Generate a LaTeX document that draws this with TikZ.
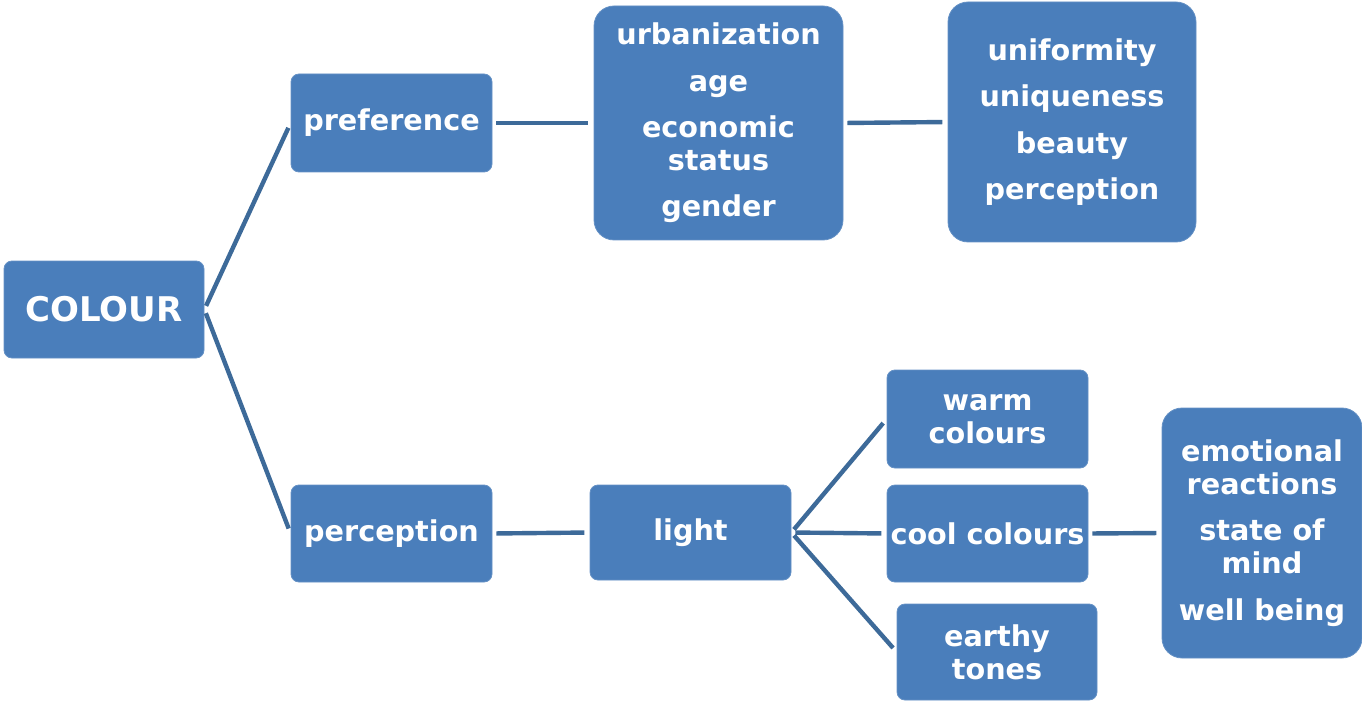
\documentclass[tikz,border=0pt]{standalone}
\usepackage{fontspec}
\setmainfont{DejaVu Sans}
\definecolor{boxblue}{HTML}{4A7EBB}
\definecolor{linkblue}{HTML}{3D6A99}
\begin{document}
\begin{tikzpicture}[x=0.75pt,y=-0.75pt,
  box/.style={fill=boxblue, draw=boxblue!85!white, line width=0.6pt, rounded corners=6pt,
    text=white, font=\bfseries\fontsize{21.5}{24.75}\selectfont, align=center, inner sep=0pt},
  bigbox/.style={box, rounded corners=15pt},
  link/.style={draw=linkblue, line width=3.3pt, shorten <=3pt, shorten >=4pt}]
\useasboundingbox (0,0) rectangle (1362,702);

\node[box, minimum width=150pt, minimum height=72.75pt, font=\bfseries\fontsize{25.5}{30}\selectfont] (colour) at (104,309.5) {COLOUR};
\node[box, minimum width=150.75pt, minimum height=73.5pt] (pref) at (391.5,123) {preference};
\node[box, minimum width=150.75pt, minimum height=72.75pt] (perc) at (391.5,533.5) {perception};
\node[bigbox, minimum width=186.75pt, minimum height=175.5pt] (urb) at (718.5,123) {urbanization\\[10pt]age\\[10pt]economic\\status\\[10pt]gender};
\node[bigbox, minimum width=186pt, minimum height=180pt] (uni) at (1072,122) {uniformity\\[10pt]uniqueness\\[10pt]beauty\\[10pt]perception};
\node[box, minimum width=150.75pt, minimum height=71.25pt] (light) at (690.5,532.5) {light};
\node[box, minimum width=150.75pt, minimum height=73.5pt] (warm) at (987.5,419) {warm\\colours};
\node[box, minimum width=150.75pt, minimum height=72.75pt] (cool) at (987.5,533.5) {cool colours};
\node[box, minimum width=150pt, minimum height=72pt] (earthy) at (997,652) {earthy\\tones};
\node[bigbox, minimum width=150pt, minimum height=187.5pt] (emo) at (1262,533) {emotional\\reactions\\[10pt]state of\\mind\\[10pt]well being};

\draw[link] (colour.east) -- (pref.west);
\draw[link] (colour.east) -- (perc.west);
\draw[link] (pref.east) -- (urb.west);
\draw[link] (urb.east) -- (uni.west);
\draw[link] (perc.east) -- (light.west);
\draw[link] (light.east) -- (warm.west);
\draw[link] (light.east) -- (cool.west);
\draw[link] (light.east) -- (earthy.west);
\draw[link] (cool.east) -- (emo.west);
\end{tikzpicture}
\end{document}
